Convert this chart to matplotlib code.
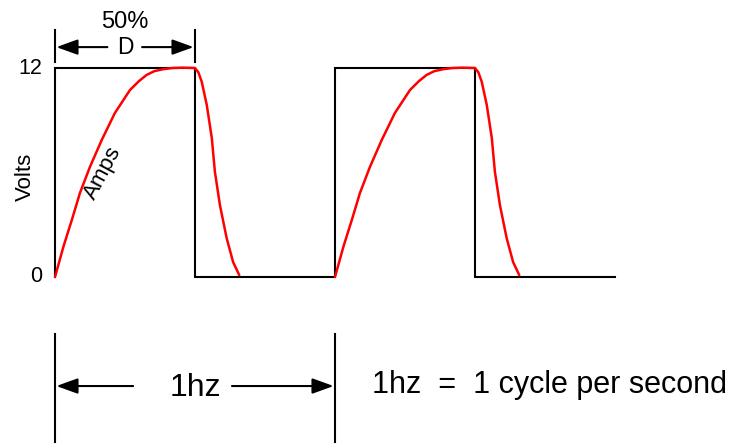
import numpy as np
import matplotlib.pyplot as plt

plt.rcParams['font.family'] = ['Liberation Sans', 'DejaVu Sans']

# square wave voltage (seconds, volts)
sq_t = [0, 0, 0.5, 0.5, 1.0, 1.0, 1.5, 1.5, 2.0]
sq_v = [0, 12, 12, 0, 0, 12, 12, 0, 0]

# current (amps) shape within one cycle
amp_t = [0, 0.03, 0.06, 0.089, 0.125, 0.167, 0.214, 0.268, 0.3, 0.327, 0.355,
         0.386, 0.42, 0.457, 0.5, 0.512, 0.524, 0.542, 0.56, 0.571, 0.589,
         0.601, 0.613, 0.636, 0.658]
amp_v = [0, 1.74, 3.27, 4.82, 6.33, 7.87, 9.42, 10.74, 11.25, 11.6, 11.82,
         11.93, 12.0, 12.02, 12.0, 11.75, 11.21, 9.88, 7.98, 6.05, 4.13,
         3.18, 2.24, 0.86, 0.11]
cycle_starts = [0, 1]

y_ticks = [0, 12]

fig = plt.figure(figsize=(7.46, 4.45), dpi=100)
ax = fig.add_axes([0, 0, 1, 1])
ax.set_xlim(-55 / 280, 691 / 280)
ax.set_ylim(-168 * 12 / 209, 277 * 12 / 209)
ax.axis('off')

ax.plot(sq_t, sq_v, color='black', lw=1.5, solid_joinstyle='miter')
for c in cycle_starts:
    ax.plot(np.array(amp_t) + c, amp_v, color='#ff0000', lw=1.8,
            solid_capstyle='round', solid_joinstyle='round')

for v in y_ticks:
    ax.text(-0.046, v, str(v), ha='right', va='center', fontsize=15.5)

ax.text(-0.104, 5.74, "Volts", rotation=90, ha='center', va='center', fontsize=16)
ax.text(0.17, 5.95, "Amps", rotation=62, ha='center', va='center',
        fontsize=16, rotation_mode='anchor')

arrow = dict(arrowstyle="-|>,head_length=1.3,head_width=0.47",
             mutation_scale=10, color='black', lw=1.5, shrinkA=0, shrinkB=0)

# duty cycle dimension
for t in [0, 0.5]:
    ax.plot([t, t], [12.34, 14.18], color='black', lw=1.5)
ax.annotate("", xy=(0.005, 13.2), xytext=(0.187, 13.2), arrowprops=arrow)
ax.annotate("", xy=(0.495, 13.2), xytext=(0.311, 13.2), arrowprops=arrow)
ax.text(0.25, 13.2, "D", ha='center', va='center', fontsize=16.5)
ax.text(0.25, 14.64, "50%", ha='center', va='center', fontsize=17)

# period dimension
for t in [0, 1.0]:
    ax.plot([t, t], [-3.3, -9.5], color='black', lw=1.5)
ax.annotate("", xy=(0.005, -6.26), xytext=(0.279, -6.26), arrowprops=arrow)
ax.annotate("", xy=(0.995, -6.26), xytext=(0.632, -6.26), arrowprops=arrow)
ax.text(0.5, -6.35, "1hz", ha='center', va='center', fontsize=23)
ax.text(1.132, -6.2, "1hz  =  1 cycle per second", ha='left', va='center', fontsize=22)

fig.savefig("out.png", dpi=100)
